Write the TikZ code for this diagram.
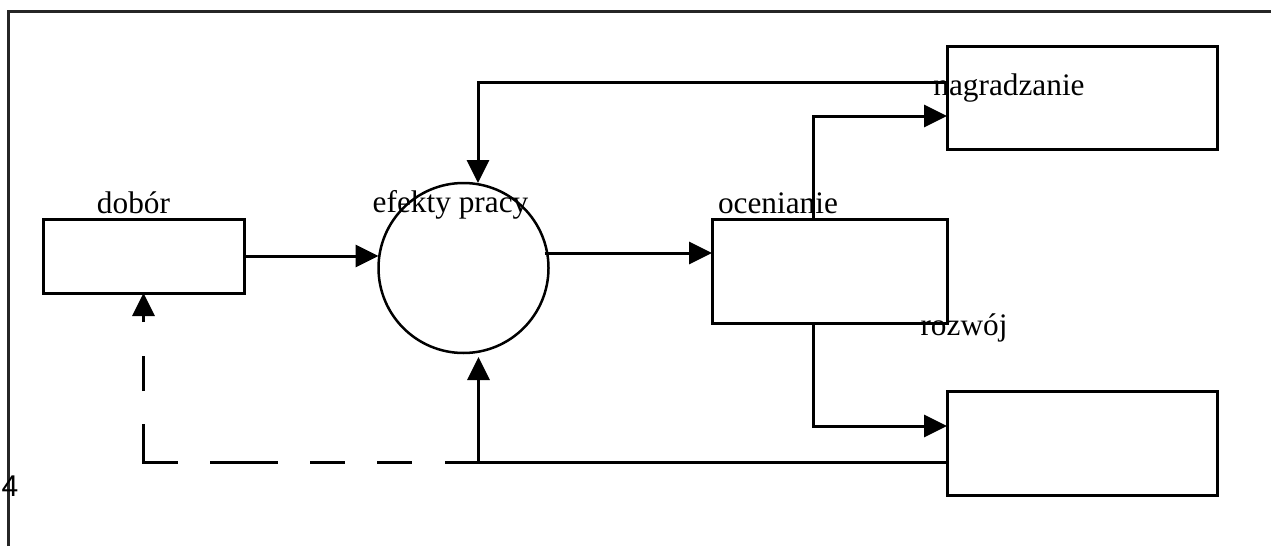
\documentclass[tikz,border=0pt]{standalone}
\usepackage{fontspec}
\setmainfont{Liberation Serif}
\newfontfamily\numfont{Liberation Sans}
\usetikzlibrary{arrows.meta}
\begin{document}
\begin{tikzpicture}[x=1pt,y=-1pt,
  box/.style={draw, line width=3pt, minimum width=#1, inner sep=0pt, outer sep=0pt},
  lbl/.style={anchor=base, inner sep=0pt, font=\fontsize{31.3}{36}\selectfont},
  conn/.style={line width=3pt},
  arr/.style={conn, -{Triangle[length=23pt,width=22pt]}},
  dashpat/.style={dash pattern=on 34pt off 33pt on 35pt off 32pt on 35pt off 32pt on 68pt off 32pt on 72pt off 33pt on 35pt off 34pt on 300pt off 1pt},
  frame/.style={line width=3pt, black!85}]
\useasboundingbox (0,0) rectangle (1271,546);
\draw[frame] (8,546) -- (8,11) -- (1271,11);
% boxes
\node[box=201pt, minimum height=74pt] (dobor) at (143.5,256) {};
\node[box=235pt, minimum height=104pt] (ocen) at (829.5,271) {};
\node[box=270pt, minimum height=103pt] (nagr) at (1082,97.5) {};
\node[box=270pt, minimum height=104pt] (rozw) at (1082,443) {};
\node[draw, circle, line width=2.5pt, minimum size=170pt, inner sep=0pt, outer sep=0pt] (circ) at (463.5,268) {};
% labels
\node[lbl] (tdobor) at (133.5,213) {dobór};
\node[lbl] (tefekty) at (450.5,212) {efekty pracy};
\node[lbl] (tocen) at (778,213) {ocenianie};
\node[lbl] (tnagr) at (1009,95) {nagradzanie};
\node[lbl] (trozw) at (964,335) {rozwój};
\node[anchor=base, inner sep=0pt, font=\numfont\fontsize{30}{34}\selectfont] (tfour) at (10,496) {4};
% connectors
\draw[arr] (dobor.east) -- (circ.west |- dobor.east);
\draw[arr] ([xshift=-4pt,yshift=15pt]circ.east) -- ([yshift=18pt]ocen.west);
\draw[arr] ([yshift=15.5pt]nagr.west) -| ([xshift=14.5pt]circ.north);
\draw[arr] ([xshift=-16.5pt]ocen.north) |- ([yshift=-18.5pt]nagr.west);
\draw[arr] ([xshift=-16.5pt]ocen.south) |- ([yshift=17pt]rozw.west);
\coordinate (j) at (478.5,462);
\draw[conn] ([yshift=-19pt]rozw.west) -- (j);
\draw[arr, shorten >=4pt] (j) -- (circ.south -| j);
\draw[arr, dashpat] (j) -| (dobor.south);
\end{tikzpicture}
\end{document}
